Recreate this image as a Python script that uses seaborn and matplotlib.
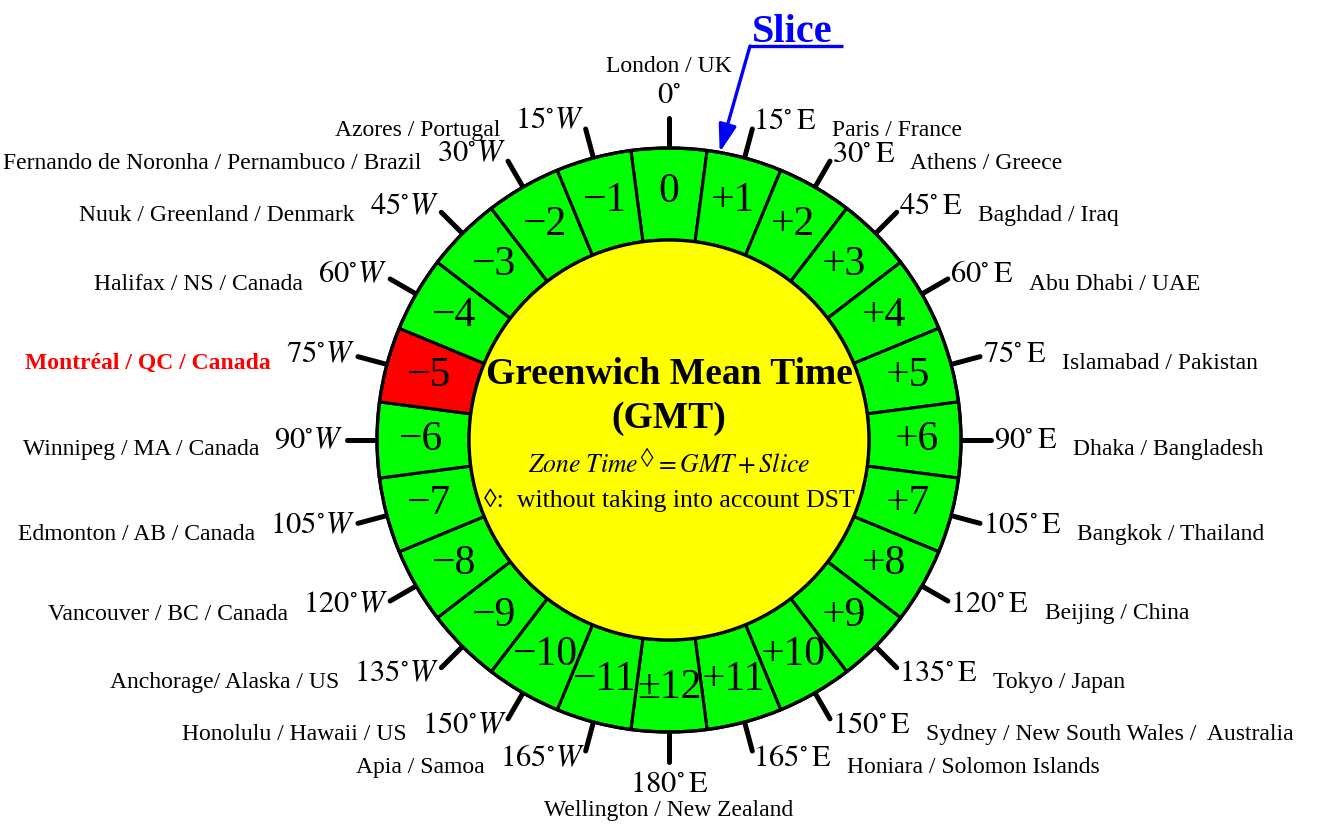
import numpy as np
import pandas as pd
import matplotlib.pyplot as plt
import seaborn as sns
from matplotlib.patches import Wedge, Circle

# slices clockwise from the top (Greenwich)
offsets = ["0", "+1", "+2", "+3", "+4", "+5", "+6", "+7", "+8", "+9", "+10", "+11",
           "\u00b112", "\u221211", "\u221210", "\u22129", "\u22128", "\u22127", "\u22126",
           "\u22125", "\u22124", "\u22123", "\u22122", "\u22121"]
lon_labels = ["0°", "15°E", "30°E", "45°E", "60°E", "75°E", "90°E", "105°E", "120°E",
              "135°E", "150°E", "165°E", "180°E", "165°W", "150°W", "135°W", "120°W",
              "105°W", "90°W", "75°W", "60°W", "45°W", "30°W", "15°W"]
cities = ["London / UK", "Paris / France", "Athens / Greece", "Baghdad / Iraq",
          "Abu Dhabi / UAE", "Islamabad / Pakistan", "Dhaka / Bangladesh",
          "Bangkok / Thailand", "Beijing / China", "Tokyo / Japan",
          "Sydney / New South Wales /  Australia", "Honiara / Solomon Islands",
          "Wellington / New Zealand", "Apia / Samoa", "Honolulu / Hawaii / US",
          "Anchorage/ Alaska / US", "Vancouver / BC / Canada", "Edmonton / AB / Canada",
          "Winnipeg / MA / Canada", "Montréal / QC / Canada", "Halifax / NS / Canada",
          "Nuuk / Greenland / Denmark", "Fernando de Noronha / Pernambuco / Brazil",
          "Azores / Portugal"]
highlight = "\u22125"

sns.set_theme(style="white")
plt.rcParams['font.family'] = ['Liberation Serif', 'DejaVu Serif']
plt.rcParams['mathtext.fontset'] = 'stix'
plt.rcParams['text.color'] = 'black'

GREEN, RED, YELLOW, BLUE = "#00ff00", "#ff0000", "#ffff00", "#0000ff"
cx, cy = 669, 440
r_out, r_in = 292, 200
r_num, r_tick = 248, 322
lab_rx, lab_ry = 325, 330
step = 360 / len(offsets)

fig = plt.figure(figsize=(13.27, 8.25), dpi=100)
ax = fig.add_axes([0, 0, 1, 1])

# ring of slices
for k, off in enumerate(offsets):
    mid = k * step - 90
    color = RED if off == highlight else GREEN
    ax.add_patch(Wedge((cx, cy), r_out, mid - step / 2, mid + step / 2,
                       width=r_out - r_in, facecolor=color, edgecolor="black",
                       lw=2.2, zorder=2))
    b = np.radians(k * step)
    ax.text(cx + r_num * np.sin(b), cy - r_num * np.cos(b), off, fontsize=30,
            ha="center", va="center", zorder=4)

ax.add_patch(Circle((cx, cy), r_out, fill=False, edgecolor="black", lw=2.4, zorder=3))
ax.add_patch(Circle((cx, cy), r_in, facecolor=YELLOW, edgecolor="black", lw=2.4, zorder=3))

# tick marks
rows = []
for k in range(len(offsets)):
    b = np.radians(k * step)
    for r in (r_out, r_tick):
        rows.append({"tick": k, "x": cx + r * np.sin(b), "y": cy - r * np.cos(b)})
ticks = pd.DataFrame(rows)
sns.lineplot(data=ticks, x="x", y="y", units="tick", estimator=None, sort=False,
             color="black", lw=3.6, ax=ax, legend=False, zorder=1)


def lon_tex(s):
    num, hemi = s.split("°")
    if hemi == "W":
        return rf"${num}^{{\circ}}W$"
    if hemi == "E":
        return rf"${num}^{{\circ}}\,\mathrm{{E}}$"
    return rf"${num}^{{\circ}}$"


for k, (lab, city) in enumerate(zip(lon_labels, cities)):
    b = np.radians(k * step)
    s, c = np.sin(b), np.cos(b)
    x, y = cx + lab_rx * s, cy - lab_ry * c
    kw = dict(fontsize=17)
    if city.startswith("Montréal"):
        kw.update(color=RED, fontweight="bold")
    if abs(s) < 1e-6:
        top = c > 0
        t = ax.text(x, y, lon_tex(lab), fontsize=22, ha="center",
                    va="bottom" if top else "top")
        ax.annotate(city, xy=(0.5, 1 if top else 0), xycoords=t,
                    xytext=(0, 3 if top else -1), textcoords="offset points",
                    ha="center", va="bottom" if top else "top", **kw)
    else:
        right = s > 0
        t = ax.text(x, y, lon_tex(lab), fontsize=22,
                    ha="left" if right else "right", va="center")
        ax.annotate(city, xy=(1 if right else 0, 0), xycoords=t,
                    xytext=(11 if right else -11, 0), textcoords="offset points",
                    ha="left" if right else "right", va="baseline", **kw)

# centre text
ax.text(cx, cy - 65, "Greenwich Mean Time", fontsize=27, fontweight="bold",
        ha="center", va="center", zorder=5)
ax.text(cx, cy - 22, "(GMT)", fontsize=27, fontweight="bold",
        ha="center", va="center", zorder=5)
ax.text(cx, cy + 23, "$Zone\\ Time^{\u25ca} = GMT + Slice$", fontsize=18.5,
        ha="center", va="center", zorder=5)
ax.text(cx, cy + 60, "\u25ca:  without taking into account DST", fontsize=18.5,
        ha="center", va="center", zorder=5)

# "Slice" callout
tip_b = np.radians(10)
tip = (cx + r_out * np.sin(tip_b), cy - r_out * np.cos(tip_b))
ax.text(792, 42, "Slice", fontsize=29, fontweight="bold", color=BLUE,
        ha="center", va="baseline")
ax.plot([843, 750], [46, 46], color=BLUE, lw=2.4, solid_capstyle="butt")
ax.annotate("", xy=tip, xytext=(750, 46),
            arrowprops=dict(arrowstyle="-|>,head_length=1.4,head_width=0.45",
                            color=BLUE, lw=2.4, shrinkA=0, shrinkB=0))

ax.set_xlim(0, 1327)
ax.set_ylim(825, 0)
ax.axis("off")

fig.savefig("out.png", dpi=100)
